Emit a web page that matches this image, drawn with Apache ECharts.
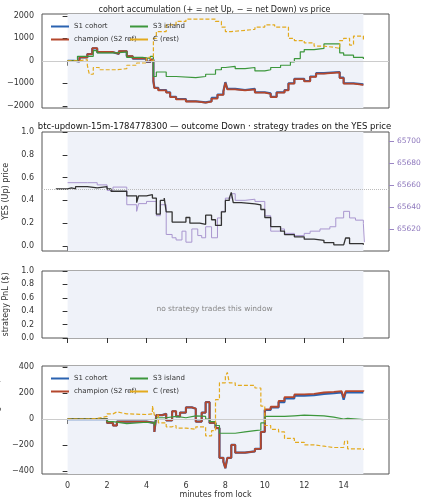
<!DOCTYPE html>
<html><head><meta charset="utf-8">
<script src="https://cdn.jsdelivr.net/npm/echarts@6/dist/echarts.min.js"></script>
<style>html,body{margin:0;background:#fff}#c{width:429px;height:500px}</style>
</head><body><div id="c"></div>
<script>
// accumulated net YES shares, [minute, value]
var accS1 = [[0,0],[0.3,-30],[0.6,150],[1.0,300],[1.25,550],[1.5,380],[2.3,300],[2.6,420],[3.0,200],[3.3,100],[4.0,-50],[4.2,50],[4.35,-900],[4.4,-1200],[4.6,-1300],[5.0,-1400],[5.2,-1600],[5.5,-1700],[6.0,-1800],[6.5,-1850],[7.0,-1800],[7.3,-1650],[7.6,-1500],[7.9,-1350],[8.0,-950],[8.1,-1250],[8.5,-1300],[9.0,-1250],[9.5,-1400],[10.0,-1450],[10.3,-1600],[10.6,-1400],[11.0,-1300],[11.2,-1000],[11.5,-800],[12.0,-900],[12.3,-700],[12.6,-550],[13.0,-500],[13.8,-750],[14.0,-1000],[14.5,-1050],[15.0,-1050]];
var accChamp = [[0,0],[0.3,-30],[0.6,150],[1.0,300],[1.25,560],[1.5,390],[2.3,310],[2.6,430],[3.0,210],[3.3,110],[4.0,-40],[4.2,50],[4.35,-900],[4.4,-1220],[4.6,-1320],[5.0,-1420],[5.2,-1620],[5.5,-1720],[6.0,-1810],[6.5,-1860],[7.0,-1820],[7.3,-1680],[7.6,-1520],[7.9,-1380],[8.0,-980],[8.1,-1270],[8.5,-1320],[9.0,-1270],[9.5,-1420],[10.0,-1470],[10.3,-1620],[10.6,-1420],[11.0,-1320],[11.2,-1020],[11.5,-820],[12.0,-920],[12.3,-720],[12.6,-570],[13.0,-520],[13.8,-770],[14.0,-1020],[14.5,-1070],[15.0,-1070]];
var accS3 = [[0,0],[0.5,200],[1.3,450],[1.5,350],[2.5,400],[3.0,150],[3.8,100],[4.2,200],[4.35,-700],[4.5,-500],[5.0,-700],[5.5,-750],[6.5,-700],[7.0,-600],[7.5,-400],[7.8,-300],[8.0,-250],[8.5,-350],[9.0,-300],[9.5,-450],[10.0,-400],[10.3,-300],[10.8,-200],[11.3,-50],[11.5,100],[11.8,400],[12.0,500],[12.5,550],[13.0,750],[13.8,350],[14.0,250],[14.5,150],[15.0,80]];
var accC = [[0,0],[0.5,50],[1.0,-200],[1.1,-600],[1.3,-300],[1.6,-400],[2.5,-350],[3.0,-200],[3.5,-100],[4.0,150],[4.2,0],[4.35,1000],[4.5,1300],[5.0,1600],[5.5,1750],[6.0,1850],[7.0,1850],[7.5,1750],[7.8,1500],[8.0,1300],[8.3,1350],[9.0,1400],[9.5,1500],[10.0,1600],[10.5,1500],[11.2,1000],[11.5,900],[12.0,800],[12.5,650],[13.0,600],[13.5,550],[13.8,900],[14.0,1000],[14.3,700],[14.5,1100],[15.0,950]];
// YES price and BTC
var yesPrice = [[-0.6,0.5],[0,0.51],[0.2,0.5],[0.4,0.52],[1.0,0.51],[1.5,0.52],[2.0,0.5],[2.2,0.48],[3.0,0.44],[3.5,0.38],[3.6,0.44],[4.0,0.45],[4.3,0.42],[4.5,0.28],[4.7,0.4],[4.9,0.42],[5.0,0.3],[5.3,0.21],[6.0,0.25],[6.2,0.2],[6.7,0.19],[7.0,0.27],[7.3,0.23],[7.5,0.18],[7.8,0.3],[8.0,0.4],[8.2,0.42],[8.3,0.47],[8.4,0.38],[8.8,0.37],[9.5,0.36],[9.8,0.32],[10.0,0.25],[10.3,0.17],[10.8,0.13],[11.0,0.1],[11.5,0.08],[12.0,0.06],[12.5,0.05],[13.0,0.03],[13.5,0.01],[14.0,0.02],[14.1,0.07],[14.3,0.02],[15.0,0.01]];
var btcUsd = [[0,65662],[1.0,65662],[1.5,65660],[2.0,65655],[2.3,65658],[3.0,65642],[3.5,65636],[3.6,65643],[4.0,65645],[4.5,65632],[4.7,65642],[5.0,65615],[5.3,65612],[5.5,65610],[5.8,65618],[6.0,65608],[6.3,65620],[6.6,65614],[6.8,65612],[7.0,65622],[7.3,65612],[7.6,65630],[7.8,65636],[8.0,65648],[8.3,65652],[8.5,65646],[9.0,65647],[9.5,65645],[10.0,65632],[10.3,65618],[10.8,65620],[11.0,65616],[11.5,65614],[12.0,65616],[12.3,65618],[12.8,65620],[13.3,65622],[13.6,65630],[14.0,65636],[14.3,65630],[14.6,65628],[15.0,65625],[15.05,65608]];
// cohort moving PnL
var pnlS1 = [[0,0],[1,0],[2,-30],[2.3,-50],[2.5,-20],[4,-30],[4.4,-100],[4.5,30],[4.8,40],[5.0,-10],[5.3,60],[5.5,20],[5.7,50],[6.0,90],[6.3,80],[6.5,-20],[6.8,50],[7.0,130],[7.2,-30],[7.5,-70],[7.7,-300],[7.9,-330],[8.0,-380],[8.1,-300],[8.3,-200],[8.5,-260],[9.0,-250],[9.5,-230],[9.8,-100],[10.0,70],[10.3,90],[10.7,130],[11.0,160],[11.5,180],[12.0,185],[12.5,195],[13.0,200],[13.5,205],[13.9,200],[14.0,150],[14.1,205],[15.0,210]];
var pnlChamp = [[0,0],[1,0],[2,-30],[2.3,-50],[2.5,-20],[4,-30],[4.4,-100],[4.5,30],[4.8,40],[5.0,-10],[5.3,60],[5.5,20],[5.7,50],[6.0,90],[6.3,80],[6.5,-20],[6.8,50],[7.0,130],[7.2,-30],[7.5,-70],[7.7,-300],[7.9,-330],[8.0,-380],[8.1,-300],[8.3,-200],[8.5,-260],[9.0,-250],[9.5,-230],[9.8,-100],[10.0,75],[10.3,95],[10.7,140],[11.0,170],[11.5,190],[12.0,195],[12.5,205],[13.0,210],[13.5,215],[13.9,210],[14.0,165],[14.1,215],[15.0,222]];
var pnlS3 = [[0,0],[1,0],[2,-20],[2.3,-35],[3,-25],[4,-30],[4.4,-50],[4.5,10],[5,20],[5.5,10],[6,25],[6.5,20],[7,0],[7.2,-20],[7.5,-50],[7.7,-110],[8.5,-100],[9,-90],[9.5,-85],[9.8,-30],[10,20],[11,25],[11.5,30],[12,25],[13,15],[13.5,0],[14,5],[14.2,-5],[15,-5]];
var pnlC = [[0,0],[1,5],[1.5,20],[2,40],[2.3,55],[2.5,40],[3,35],[4,40],[4.3,100],[4.4,30],[4.6,-30],[5,-60],[5.3,-50],[5.5,-70],[6,-80],[6.5,-60],[7,-130],[7.3,-90],[7.5,150],[7.7,280],[8,330],[8.1,360],[8.2,280],[8.5,260],[9,260],[9.5,240],[9.8,100],[10,-50],[10.3,-80],[10.7,-100],[11,-150],[11.5,-180],[12,-200],[12.5,-210],[13,-220],[13.5,-220],[14,-210],[14.05,-170],[14.2,-230],[15,-240]];
var minuteTicks = [0,2,4,6,8,10,12,14];

var chart = echarts.init(document.getElementById('c'));
var font = 'DejaVu Sans';
var grids = [
  {left:42, right:40, top:14, height:94},
  {left:42, right:40, top:132, height:119},
  {left:42, right:40, top:271, height:67},
  {left:42, right:40, top:366, height:108}
];
grids.forEach(function(g){ g.show = true; g.borderColor = '#555'; g.borderWidth = 1; g.backgroundColor = '#fff'; g.containLabel = false; g.outerBoundsMode = 'none'; });

function xAx(i, labels){
  return {type:'value', gridIndex:i, min:-1.3, max:16.3,
    axisLine:{show:false},
    axisTick:{show:true, customValues:minuteTicks, lineStyle:{color:'#333'}},
    axisLabel:{show:labels, customValues:minuteTicks, fontSize:8, color:'#333', fontFamily:font},
    splitLine:{show:false},
    name: labels ? 'minutes from lock' : '', nameLocation:'middle', nameGap:16,
    nameTextStyle:{fontSize:8, color:'#333', fontFamily:font}};
}
function yAx(i, min, max, ticks, name, fmt){
  return {type:'value', gridIndex:i, min:min, max:max,
    axisLine:{show:false},
    axisTick:{show:true, customValues:ticks, lineStyle:{color:'#333'}},
    axisLabel:{customValues:ticks, fontSize:8, color:'#333', fontFamily:font, formatter:fmt},
    splitLine:{show:false},
    name:name, nameLocation:'middle', nameGap:30, nameRotate:90,
    nameTextStyle:{fontSize:8, color:'#333', fontFamily:font}};
}
var minus = function(v){ return String(v).replace('-', '\u2212'); };
var one = function(v){ return v.toFixed(1); };

var bgArea = {silent:true, itemStyle:{color:'#eff2f9'}, data:[[{xAxis:0},{xAxis:15}]]};
var zeroLine = {silent:true, symbol:'none', label:{show:false}, lineStyle:{color:'#ccc', width:1, type:'solid'}, data:[{yAxis:0}]};

function line(name, data, xi, yi, color, width, dashed, extra){
  var s = {name:name, type:'line', step:'end', data:data, xAxisIndex:xi, yAxisIndex:yi,
    showSymbol:false, animation:false,
    lineStyle:{color:color, width:width, type: dashed ? [4,2] : 'solid'},
    itemStyle:{color:color}};
  for (var k in extra) s[k] = extra[k];
  return s;
}
var blue = '#2a62b0', red = '#b4472c', green = '#3c973c', gold = '#e3aa1e';

function legends(top){
  var base = {orient:'vertical', itemWidth:18, itemHeight:2, itemGap:6,
    textStyle:{fontSize:7, color:'#333', fontFamily:font}, icon:'rect'};
  return [
    Object.assign({left:46, top:top, data:['S1 cohort','champion (S2 ref)']}, base),
    Object.assign({left:125, top:top, data:['S3 island','C (rest)']}, base)
  ];
}

chart.setOption({
  animation:false,
  title:[
    {text:'cohort accumulation (+ = net Up, \u2212 = net Down) vs price', left:'center', top:1,
      textStyle:{fontSize:8, fontWeight:'normal', color:'#222', fontFamily:font}},
    {text:'btc-updown-15m-1784778300 \u2014 outcome Down \u00b7 strategy trades on the YES price', left:'center', top:117,
      textStyle:{fontSize:8.5, fontWeight:'normal', color:'#111', fontFamily:font}},
    {text:'no strategy trades this window', left:'center', top:300,
      textStyle:{fontSize:7.5, fontWeight:'normal', color:'#888', fontFamily:font}}
  ],
  legend: legends(18).concat(legends(370)),
  grid: grids,
  xAxis: [xAx(0,false), xAx(1,false), xAx(2,false), xAx(3,true)],
  yAxis: [
    yAx(0, -2100, 2080, [-2000,-1000,0,1000,2000], 'acc. net YES (shares)', minus),
    yAx(1, -0.044, 1.0, [0,0.2,0.4,0.6,0.8,1.0], 'YES (Up) price', one),
    yAx(2, 0, 1.0, [0,0.2,0.4,0.6,0.8,1.0], 'strategy PnL ($)', one),
    yAx(3, -425, 410, [-400,-200,0,200,400], 'cohort moving PnL ($)', minus),
    {type:'value', gridIndex:1, position:'right', min:65600, max:65708,
      axisLine:{show:false},
      axisTick:{customValues:[65620,65640,65660,65680,65700], lineStyle:{color:'#9b86c4'}},
      axisLabel:{customValues:[65620,65640,65660,65680,65700], fontSize:7.5, color:'#8e78bd', fontFamily:font,
        formatter:function(v){ return String(v); }},
      splitLine:{show:false},
      name:'BTC/USD (strike dotted = YES 0.5)', nameLocation:'middle', nameGap:32, nameRotate:-90,
      nameTextStyle:{fontSize:6.5, color:'#9b86c4', fontFamily:font}}
  ],
  series: [
    line('S1 cohort', accS1, 0, 0, blue, 2.2, false, {markArea:bgArea, markLine:zeroLine}),
    line('champion (S2 ref)', accChamp, 0, 0, red, 1.8, false, {}),
    line('S3 island', accS3, 0, 0, green, 1.2, false, {}),
    line('C (rest)', accC, 0, 0, gold, 1.2, true, {}),
    line('btc', btcUsd, 1, 4, '#a996cf', 1, false, {markArea:bgArea}),
    line('yes', yesPrice, 1, 1, '#333', 1.3, false, {markLine:{silent:true, symbol:'none', label:{show:false},
      lineStyle:{color:'#bbb', width:1, type:'dotted'}, data:[{yAxis:0.5}]}}),
    {type:'line', data:[], xAxisIndex:2, yAxisIndex:2, markArea:bgArea},
    line('S1 cohort', pnlS1, 3, 3, blue, 2.2, false, {markArea:bgArea, markLine:zeroLine}),
    line('champion (S2 ref)', pnlChamp, 3, 3, red, 1.8, false, {}),
    line('S3 island', pnlS3, 3, 3, green, 1.2, false, {}),
    line('C (rest)', pnlC, 3, 3, gold, 1.2, true, {})
  ]
});
</script>
</body></html>
